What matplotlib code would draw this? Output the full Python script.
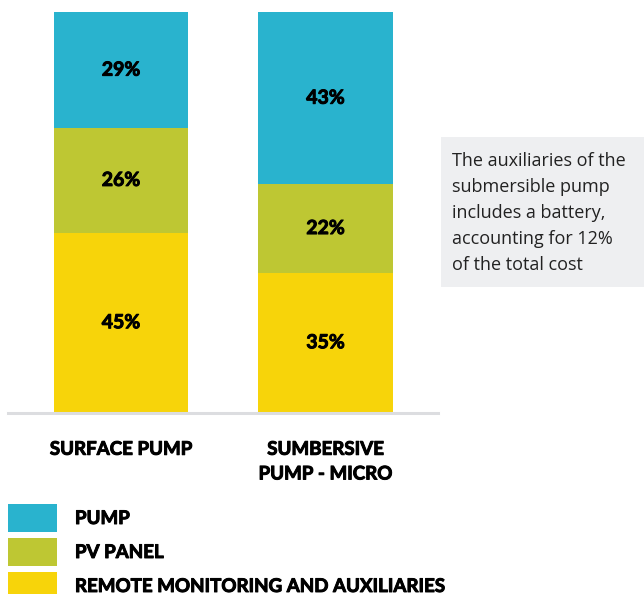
import numpy as np
import matplotlib
matplotlib.use("Agg")
from matplotlib import pyplot as plt
from matplotlib.patches import Patch, Rectangle
import matplotlib.patheffects as pe

# data, bottom to top
categories = ["SURFACE PUMP", "SUMBERSIVE\nPUMP - MICRO"]
series_names = ["PUMP", "PV PANEL", "REMOTE MONITORING AND AUXILIARIES"]
remote = [45, 35]
pv_panel = [26, 22]
pump = [29, 43]
note = ("The auxiliaries of the\nsubmersible pump\nincludes a battery,\n"
        "accounting for 12%\nof the total cost")

c_pump = "#29b3ce"
c_pv = "#bec733"
c_remote = "#f7d40a"

plt.rcParams['font.family'] = ['Lato', 'DejaVu Sans']
# a touch heavier than Lato Bold
heavy = [pe.withStroke(linewidth=0.7, foreground='black')]

fig = plt.figure(figsize=(6.44, 5.94), dpi=100)
W, H = 644, 594
ax = fig.add_axes([8 / W, 1 - 413 / H, 430 / W, 401 / H])

x = np.arange(len(categories))
width = 0.658
stacks = [(remote, c_remote), (pv_panel, c_pv), (pump, c_pump)]
bottom = np.zeros(len(categories))
for vals, col in stacks:
	vals = np.array(vals, dtype=float)
	ax.bar(x, vals, width, bottom=bottom, color=col, linewidth=0)
	for xi, b, v in zip(x, bottom, vals):
		ax.text(xi, b + v / 2, "%d%%" % v, ha='center', va='center',
			fontsize=14, fontweight='bold', color='black', path_effects=heavy)
	bottom += vals

ax.set_xlim(-0.553, 1.55)
ax.set_ylim(0, 100)
for s in ['top', 'left', 'right']:
	ax.spines[s].set_visible(False)
ax.spines['bottom'].set_color('#dcdde0')
ax.spines['bottom'].set_linewidth(2.2)
ax.set_yticks([])
ax.set_xticks(x)
ax.set_xticklabels(categories, fontsize=13.5, fontweight='bold', linespacing=1.55)
for lbl in ax.get_xticklabels():
	lbl.set_path_effects(heavy)
ax.tick_params(axis='x', length=0, pad=20)

# note box on the right
fig.add_artist(Rectangle((441 / W, 1 - 287 / H), 203 / W, 150 / H,
	transform=fig.transFigure, facecolor='#eeeff1', edgecolor='none'))
fig.text(452 / W, 1 - 152 / H, note, ha='left', va='top', fontsize=13,
	family=['Open Sans', 'DejaVu Sans'], color='#222222', linespacing=1.57)

handles = [Patch(facecolor=c_pump), Patch(facecolor=c_pv), Patch(facecolor=c_remote)]
leg = fig.legend(handles, series_names, loc='upper left',
	bbox_to_anchor=(8 / W, 1 - 504 / H), frameon=False, borderpad=0,
	borderaxespad=0, handlelength=2.61, handleheight=1.92, handletextpad=0.96,
	labelspacing=0.32, prop={'size': 13.5, 'weight': 'bold'})
for t in leg.get_texts():
	t.set_path_effects(heavy)

fig.savefig("out.png", dpi=100)
